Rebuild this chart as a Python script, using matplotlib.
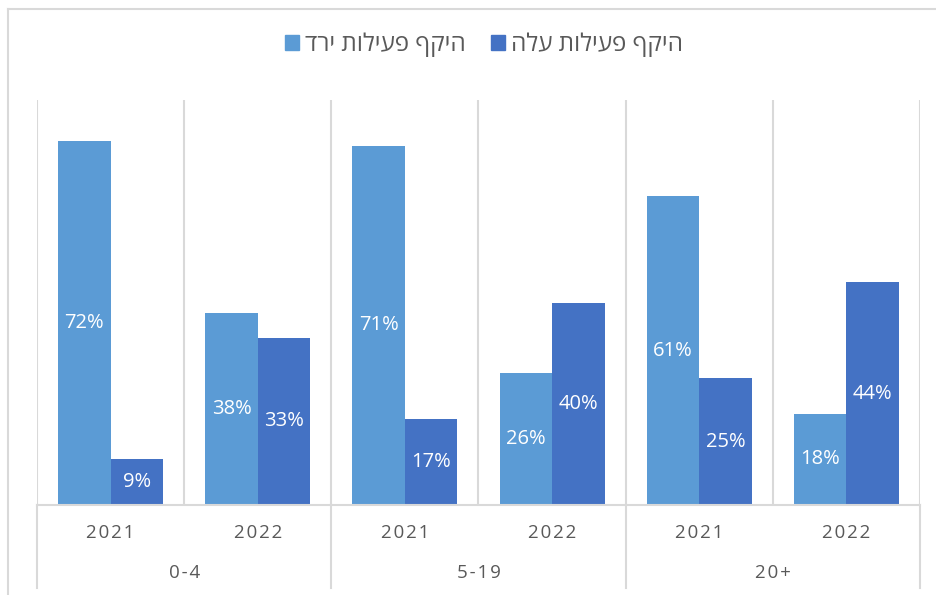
import matplotlib.pyplot as plt
from matplotlib.lines import Line2D
from matplotlib.patches import Patch
import numpy as np

plt.rcParams['font.family'] = ['Open Sans', 'Liberation Sans', 'DejaVu Sans']

# data
years = ['2021', '2022', '2021', '2022', '2021', '2022']
groups = ['0-4', '5-19', '20+']
down = [72, 38, 71, 26, 61, 18]   # היקף פעילות ירד
up = [9, 33, 17, 40, 25, 44]      # היקף פעילות עלה
label_down = 'היקף פעילות ירד'
label_up = 'היקף פעילות עלה'

c_down = '#5B9BD5'
c_up = '#4472C4'
grid_c = '#D9D9D9'
text_c = '#595959'


def rtl(s):
    # matplotlib has no bidi support, so flip hebrew for visual order
    return s[::-1]


W, H = 937, 595
fig = plt.figure(figsize=(W / 100, H / 100), dpi=100)
ax = fig.add_axes([37 / W, 1 - 505 / H, (920 - 37) / W, (505 - 100) / H])

x = np.arange(len(years))
bw = 0.357
b1 = ax.bar(x - bw / 2, down, bw, color=c_down, zorder=2)
b2 = ax.bar(x + bw / 2, up, bw, color=c_up, zorder=2)

for bars, vals in ((b1, down), (b2, up)):
    for r, v in zip(bars, vals):
        ax.text(r.get_x() + r.get_width() / 2, v / 2, f'{v}%', ha='center', va='center',
                color='white', fontsize=14.5, zorder=3)

ax.set_xlim(-0.5, len(years) - 0.5)
ax.set_ylim(0, 80)
ax.set_xticks([])
ax.set_yticks([])
for s in ax.spines.values():
    s.set_visible(False)
ax.spines['bottom'].set_visible(True)
ax.spines['bottom'].set_color(grid_c)
ax.spines['bottom'].set_linewidth(1.5)
for b in np.arange(-0.5, len(years), 1):
    ax.axvline(b, color=grid_c, lw=1.5, zorder=1)

# two-level category axis
tr = ax.get_xaxis_transform()
for i, yr in enumerate(years):
    ax.text(i, -0.07, '\u200a'.join(yr), transform=tr, ha='center', va='center',
            fontsize=13.5, color=text_c)
for g, name in enumerate(groups):
    ax.text(2 * g + 0.5, -0.168, '\u200a'.join(name), transform=tr, ha='center', va='center',
            fontsize=13.5, color=text_c)
for b in (-0.5, 1.5, 3.5, 5.5):
    ax.add_line(Line2D([b, b], [0, -0.205], transform=tr, color=grid_c, lw=1.5, clip_on=False))

# outer chart border
fig.add_artist(Line2D([8 / W, 1], [1 - 9 / H, 1 - 9 / H], transform=fig.transFigure, color=grid_c, lw=1.5))
fig.add_artist(Line2D([8 / W, 8 / W], [0, 1 - 9 / H], transform=fig.transFigure, color=grid_c, lw=1.5))

handles = [Patch(color=c_down, label=rtl(label_down)), Patch(color=c_up, label=rtl(label_up))]
fig.legend(handles=handles, loc='center', bbox_to_anchor=(484 / W, 1 - 45 / H), ncol=2,
           frameon=False, fontsize=17.5, handlelength=0.6, handleheight=0.6,
           handletextpad=0.25, columnspacing=1.0, labelcolor=text_c)

fig.savefig('out.png', dpi=100)
